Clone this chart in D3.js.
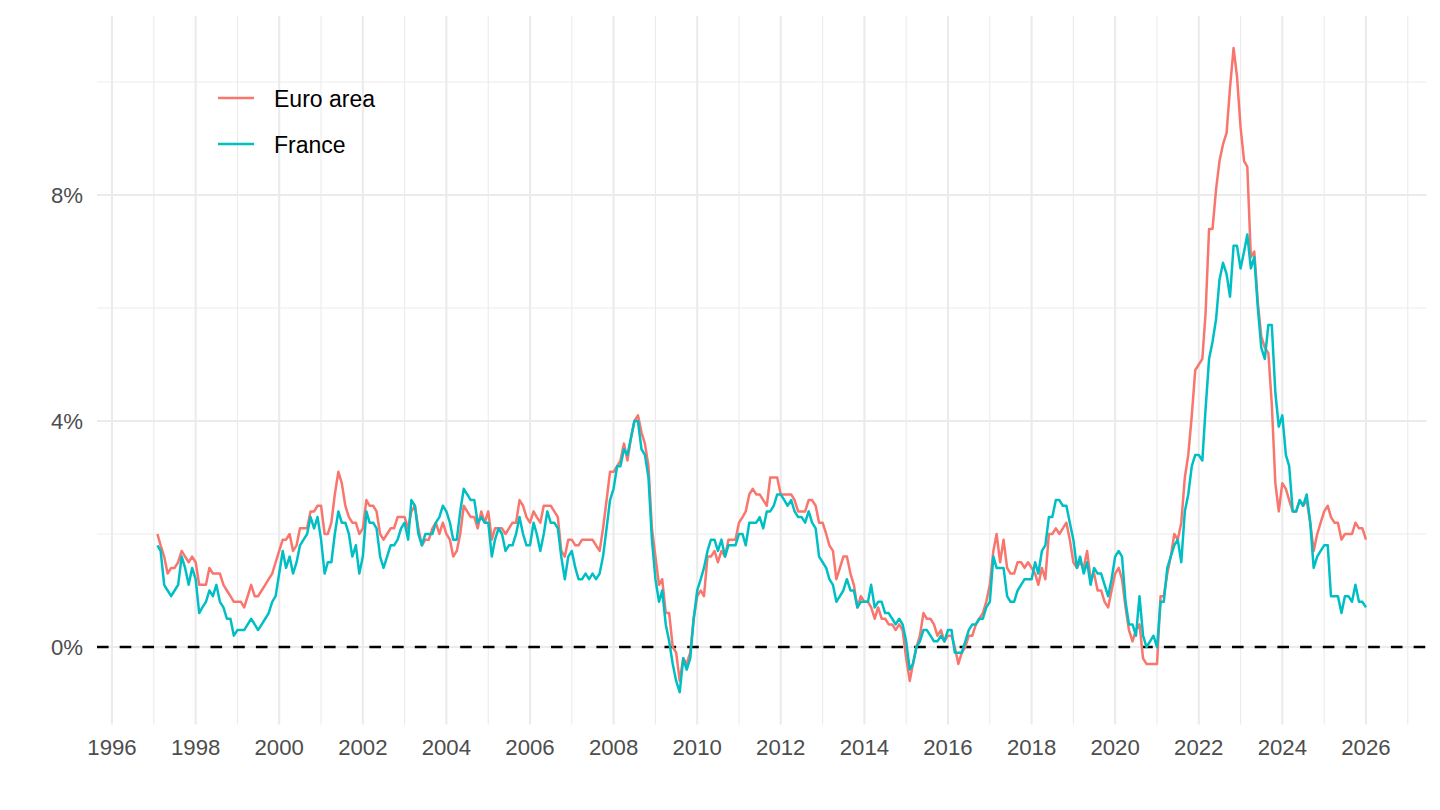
<!DOCTYPE html>
<html>
<head>
<meta charset="utf-8">
<script src="https://cdn.jsdelivr.net/npm/d3@7"></script>
<style>
  body { margin: 0; background: #fff; }
  svg { display: block; }
  text { font-family: "Liberation Sans", Arial, Helvetica, sans-serif; }
</style>
</head>
<body>
<div id="chart"></div>
<script>
// HICP, annual rate of change (%), monthly from Jan 1997
var seriesNames = ["Euro area", "France"];
var seriesColors = ["#F8766D", "#00BFC4"];
var firstYear = 1997;

var euroArea = [
  2.0, 1.8, 1.6, 1.3, 1.4, 1.4, 1.5, 1.7, 1.6, 1.5, 1.6, 1.5,
  1.1, 1.1, 1.1, 1.4, 1.3, 1.3, 1.3, 1.1, 1.0, 0.9, 0.8, 0.8,
  0.8, 0.7, 0.9, 1.1, 0.9, 0.9, 1.0, 1.1, 1.2, 1.3, 1.5, 1.7,
  1.9, 1.9, 2.0, 1.7, 1.8, 2.1, 2.1, 2.1, 2.4, 2.4, 2.5, 2.5,
  2.0, 2.0, 2.2, 2.7, 3.1, 2.9, 2.5, 2.3, 2.2, 2.2, 2.0, 2.1,
  2.6, 2.5, 2.5, 2.4, 2.0, 1.9, 2.0, 2.1, 2.1, 2.3, 2.3, 2.3,
  2.1, 2.4, 2.5, 2.1, 1.8, 1.9, 1.9, 2.1, 2.2, 2.0, 2.2, 2.0,
  1.9, 1.6, 1.7, 2.0, 2.5, 2.4, 2.3, 2.3, 2.1, 2.4, 2.2, 2.4,
  1.9, 2.1, 2.1, 2.1, 2.0, 2.1, 2.2, 2.2, 2.6, 2.5, 2.3, 2.2,
  2.4, 2.3, 2.2, 2.5, 2.5, 2.5, 2.4, 2.3, 1.7, 1.6, 1.9, 1.9,
  1.8, 1.8, 1.9, 1.9, 1.9, 1.9, 1.8, 1.7, 2.1, 2.6, 3.1, 3.1,
  3.2, 3.3, 3.6, 3.3, 3.7, 4.0, 4.1, 3.8, 3.6, 3.2, 2.1, 1.6,
  1.1, 1.2, 0.6, 0.6, 0.0, -0.1, -0.6, -0.2, -0.3, -0.1, 0.5, 0.9,
  1.0, 0.9, 1.6, 1.6, 1.7, 1.5, 1.7, 1.6, 1.9, 1.9, 1.9, 2.2,
  2.3, 2.4, 2.7, 2.8, 2.7, 2.7, 2.6, 2.5, 3.0, 3.0, 3.0, 2.7,
  2.7, 2.7, 2.7, 2.6, 2.4, 2.4, 2.4, 2.6, 2.6, 2.5, 2.2, 2.2,
  2.0, 1.8, 1.7, 1.2, 1.4, 1.6, 1.6, 1.3, 1.1, 0.7, 0.9, 0.8,
  0.8, 0.7, 0.5, 0.7, 0.5, 0.5, 0.4, 0.4, 0.3, 0.4, 0.3, -0.2,
  -0.6, -0.3, 0.0, 0.2, 0.6, 0.5, 0.5, 0.4, 0.2, 0.3, 0.1, 0.2,
  0.2, 0.0, -0.3, -0.1, 0.0, 0.2, 0.2, 0.4, 0.5, 0.6, 0.8, 1.1,
  1.7, 2.0, 1.5, 1.9, 1.4, 1.3, 1.3, 1.5, 1.5, 1.4, 1.5, 1.4,
  1.3, 1.1, 1.4, 1.2, 2.0, 2.0, 2.1, 2.0, 2.1, 2.2, 1.9, 1.5,
  1.4, 1.5, 1.4, 1.7, 1.2, 1.3, 1.0, 1.0, 0.8, 0.7, 1.0, 1.3,
  1.4, 1.2, 0.7, 0.3, 0.1, 0.3, 0.4, -0.2, -0.3, -0.3, -0.3, -0.3,
  0.9, 0.9, 1.3, 1.6, 2.0, 1.9, 2.2, 3.0, 3.4, 4.1, 4.9, 5.0,
  5.1, 5.9, 7.4, 7.4, 8.1, 8.6, 8.9, 9.1, 9.9, 10.6, 10.1, 9.2,
  8.6, 8.5, 6.9, 7.0, 6.1, 5.5, 5.3, 5.2, 4.3, 2.9, 2.4, 2.9,
  2.8, 2.6, 2.4, 2.4, 2.6, 2.5, 2.6, 2.2, 1.7, 2.0, 2.2, 2.4,
  2.5, 2.3, 2.2, 2.2, 1.9, 2.0, 2.0, 2.0, 2.2, 2.1, 2.1, 1.9
];

var france = [
  1.8, 1.7, 1.1, 1.0, 0.9, 1.0, 1.1, 1.6, 1.4, 1.1, 1.4, 1.2,
  0.6, 0.7, 0.8, 1.0, 0.9, 1.1, 0.8, 0.7, 0.5, 0.5, 0.2, 0.3,
  0.3, 0.3, 0.4, 0.5, 0.4, 0.3, 0.4, 0.5, 0.6, 0.8, 0.9, 1.3,
  1.7, 1.4, 1.6, 1.3, 1.5, 1.8, 1.9, 2.0, 2.3, 2.1, 2.3, 1.9,
  1.3, 1.5, 1.5, 2.0, 2.4, 2.2, 2.2, 2.0, 1.6, 1.8, 1.3, 1.6,
  2.4, 2.2, 2.2, 2.1, 1.6, 1.4, 1.6, 1.8, 1.8, 1.9, 2.1, 2.2,
  1.9, 2.6, 2.5, 2.0, 1.8, 2.0, 2.0, 2.0, 2.2, 2.3, 2.5, 2.4,
  2.2, 1.9, 1.9, 2.4, 2.8, 2.7, 2.6, 2.6, 2.2, 2.3, 2.2, 2.2,
  1.6, 1.9, 2.1, 2.0, 1.7, 1.8, 1.8, 2.0, 2.3, 2.0, 1.8, 1.8,
  2.2, 2.0, 1.7, 2.0, 2.4, 2.2, 2.2, 2.1, 1.6, 1.2, 1.6, 1.7,
  1.4, 1.2, 1.2, 1.3, 1.2, 1.3, 1.2, 1.3, 1.6, 2.1, 2.6, 2.8,
  3.2, 3.2, 3.5, 3.4, 3.7, 4.0, 4.0, 3.5, 3.4, 3.0, 1.9, 1.2,
  0.8, 1.0, 0.4, 0.1, -0.3, -0.6, -0.8, -0.2, -0.4, -0.2, 0.5, 1.0,
  1.2, 1.4, 1.7, 1.9, 1.9, 1.7, 1.9, 1.6, 1.8, 1.8, 1.8, 2.0,
  2.0, 1.8, 2.2, 2.2, 2.2, 2.3, 2.1, 2.4, 2.4, 2.5, 2.7, 2.7,
  2.6, 2.5, 2.6, 2.4, 2.3, 2.3, 2.2, 2.4, 2.2, 2.1, 1.6, 1.5,
  1.4, 1.2, 1.1, 0.8, 0.9, 1.0, 1.2, 1.0, 1.0, 0.7, 0.8, 0.8,
  0.8, 1.1, 0.7, 0.8, 0.8, 0.6, 0.6, 0.5, 0.4, 0.5, 0.4, 0.1,
  -0.4, -0.3, 0.0, 0.1, 0.3, 0.3, 0.2, 0.1, 0.1, 0.2, 0.1, 0.3,
  0.3, -0.1, -0.1, -0.1, 0.1, 0.3, 0.4, 0.4, 0.5, 0.5, 0.7, 0.8,
  1.6, 1.4, 1.4, 1.4, 0.9, 0.8, 0.8, 1.0, 1.1, 1.2, 1.2, 1.2,
  1.5, 1.3, 1.7, 1.8, 2.3, 2.3, 2.6, 2.6, 2.5, 2.5, 2.2, 1.9,
  1.4, 1.6, 1.3, 1.5, 1.1, 1.4, 1.3, 1.3, 1.1, 0.9, 1.2, 1.6,
  1.7, 1.6, 0.8, 0.4, 0.4, 0.2, 0.9, 0.2, 0.0, 0.1, 0.2, 0.0,
  0.8, 0.8, 1.4, 1.6, 1.8, 1.9, 1.5, 2.4, 2.7, 3.2, 3.4, 3.4,
  3.3, 4.2, 5.1, 5.4, 5.8, 6.5, 6.8, 6.6, 6.2, 7.1, 7.1, 6.7,
  7.0, 7.3, 6.7, 6.9, 6.0, 5.3, 5.1, 5.7, 5.7, 4.5, 3.9, 4.1,
  3.4, 3.2, 2.4, 2.4, 2.6, 2.5, 2.7, 2.2, 1.4, 1.6, 1.7, 1.8,
  1.8, 0.9, 0.9, 0.9, 0.6, 0.9, 0.9, 0.8, 1.1, 0.8, 0.8, 0.7
];

var yMajorTicks = [0, 4, 8];
var yMinorTicks = [2, 6, 10];
var yTickLabels = ["0%", "4%", "8%"];

var width = 1440;
var height = 810;
var panel = { left: 97, right: 1426.4, top: 15.9, bottom: 724.4 };

// each month is stamped at its end (start of next month)
var dates = euroArea.map(function (v, i) {
    return new Date(firstYear, i + 1, 1);
});

var series = [euroArea, france].map(function (vals, k) {
    return {
        name: seriesNames[k],
        color: seriesColors[k],
        values: vals.map(function (v, i) { return { date: dates[i], value: v }; })
    };
});

// ggplot-like 5% expansion
var xExt = d3.extent(dates);
var xPad = (xExt[1] - xExt[0]) * 0.05;
var x = d3.scaleTime()
    .domain([new Date(+xExt[0] - xPad), new Date(+xExt[1] + xPad)])
    .range([panel.left, panel.right]);

var yExt = d3.extent(euroArea.concat(france));
var yPad = (yExt[1] - yExt[0]) * 0.05;
var y = d3.scaleLinear()
    .domain([yExt[0] - yPad, yExt[1] + yPad])
    .range([panel.bottom, panel.top]);

var svg = d3.select("#chart")
    .append("svg")
    .attr("width", width)
    .attr("height", height);

// vertical grid: even years major, odd years minor
var years = d3.timeYear.range(new Date(1990, 0, 1), new Date(2031, 0, 1))
    .filter(function (d) { return x(d) >= panel.left && x(d) <= panel.right; });

svg.append("g")
    .selectAll("line")
    .data(years)
    .enter()
    .append("line")
    .attr("x1", function (d) { return x(d); })
    .attr("x2", function (d) { return x(d); })
    .attr("y1", panel.top)
    .attr("y2", panel.bottom)
    .attr("stroke", "#EBEBEB")
    .attr("stroke-width", function (d) { return d.getFullYear() % 2 === 0 ? 2.1 : 1.1; });

svg.append("g")
    .selectAll("line")
    .data(yMinorTicks)
    .enter()
    .append("line")
    .attr("x1", panel.left)
    .attr("x2", panel.right)
    .attr("y1", function (d) { return y(d); })
    .attr("y2", function (d) { return y(d); })
    .attr("stroke", "#EBEBEB")
    .attr("stroke-width", 1.1);

svg.append("g")
    .selectAll("line")
    .data(yMajorTicks)
    .enter()
    .append("line")
    .attr("x1", panel.left)
    .attr("x2", panel.right)
    .attr("y1", function (d) { return y(d); })
    .attr("y2", function (d) { return y(d); })
    .attr("stroke", "#EBEBEB")
    .attr("stroke-width", 2.1);

// zero line
svg.append("line")
    .attr("x1", panel.left)
    .attr("x2", panel.right)
    .attr("y1", y(0))
    .attr("y2", y(0))
    .attr("stroke", "#000")
    .attr("stroke-width", 2.3)
    .attr("stroke-dasharray", "11.6,11.1");

var line = d3.line()
    .x(function (d) { return x(d.date); })
    .y(function (d) { return y(d.value); });

svg.append("g")
    .selectAll("path")
    .data(series)
    .enter()
    .append("path")
    .attr("d", function (d) { return line(d.values); })
    .attr("fill", "none")
    .attr("stroke", function (d) { return d.color; })
    .attr("stroke-width", 2.5)
    .attr("stroke-linejoin", "round");

// axis labels
var evenYears = years.filter(function (d) { return d.getFullYear() % 2 === 0; });
svg.append("g")
    .selectAll("text")
    .data(evenYears)
    .enter()
    .append("text")
    .attr("x", function (d) { return x(d); })
    .attr("y", 755)
    .attr("text-anchor", "middle")
    .attr("font-size", 22.2)
    .attr("fill", "#4D4D4D")
    .text(function (d) { return d3.timeFormat("%Y")(d); });

svg.append("g")
    .selectAll("text")
    .data(yMajorTicks)
    .enter()
    .append("text")
    .attr("x", 83)
    .attr("y", function (d) { return y(d) + 8; })
    .attr("text-anchor", "end")
    .attr("font-size", 22.2)
    .attr("fill", "#4D4D4D")
    .text(function (d, i) { return yTickLabels[i]; });

// legend
var legend = svg.append("g")
    .selectAll("g")
    .data(series)
    .enter()
    .append("g")
    .attr("transform", function (d, i) { return "translate(218," + (98 + i * 46) + ")"; });

legend.append("line")
    .attr("x1", 0)
    .attr("x2", 36)
    .attr("stroke", function (d) { return d.color; })
    .attr("stroke-width", 2.5);

legend.append("text")
    .attr("x", 56)
    .attr("y", 8.5)
    .attr("font-size", 23)
    .attr("fill", "#000")
    .text(function (d) { return d.name; });
</script>
</body>
</html>
